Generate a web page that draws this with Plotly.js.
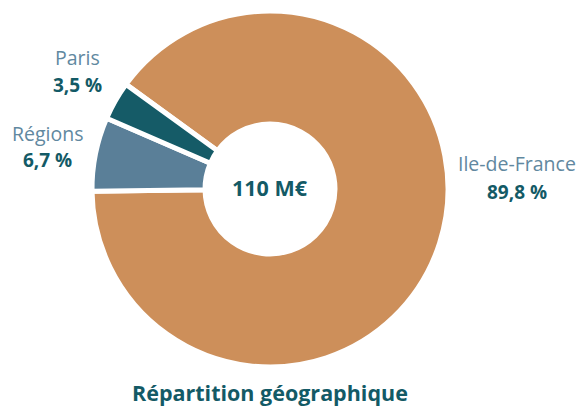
<!DOCTYPE html>
<html>
<head>
<meta charset="utf-8">
<script src="https://cdn.plot.ly/plotly-3.0.1.min.js"></script>
<style>html,body{margin:0;padding:0;background:#fff;}#chart{width:583px;height:410px;}</style>
</head>
<body>
<div id="chart"></div>
<script>
const labels = ["Ile-de-France", "Régions", "Paris"];
const values = [89.8, 6.7, 3.5];
const valueText = ["89,8", "6,7", "3,5"];
const colors = ["#CD8F5A", "#5A7F98", "#155B67"];
const centerText = "110 M€";
const chartTitle = "Répartition géographique";

const nameColor = "#6188A0";
const pctColor = "#135A66";
const font = "'Open Sans', Lato, sans-serif";

// label anchor positions (pixels from top-left): name line and percent line
const labelPos = [
  {x: 517, yName: 163, yPct: 192},
  {x: 47, yName: 133, yPct: 160},
  {x: 77, yName: 57, yPct: 85}
];

const annotations = [];
labels.forEach((l, i) => {
  annotations.push({
    xref: "paper", yref: "paper",
    x: labelPos[i].x / 583, y: 1 - labelPos[i].yName / 410,
    xanchor: "center", yanchor: "middle", showarrow: false,
    text: l,
    font: {family: font, size: 19.5, color: nameColor}
  });
  annotations.push({
    xref: "paper", yref: "paper",
    x: labelPos[i].x / 583, y: 1 - labelPos[i].yPct / 410,
    xanchor: "center", yanchor: "middle", showarrow: false,
    text: "<b>" + valueText[i] + " %</b>",
    font: {family: font, size: 19, color: pctColor}
  });
});

annotations.push({
  xref: "paper", yref: "paper", x: 270/583, y: 1 - 188/410,
  xanchor: "center", yanchor: "middle", showarrow: false,
  text: "<b>" + centerText + "</b>",
  font: {family: font, size: 21.5, color: pctColor}
});

annotations.push({
  xref: "paper", yref: "paper", x: 270/583, y: 1 - 392/410,
  xanchor: "center", yanchor: "middle", showarrow: false,
  text: "<b>" + chartTitle + "</b>",
  font: {family: font, size: 21.5, color: pctColor}
});

const cx = 270, cy = 410 - 189, R = 178;
const trace = {
  type: "pie",
  labels: labels,
  values: values,
  sort: false,
  direction: "clockwise",
  rotation: -54,
  hole: 0.365,
  textinfo: "none",
  hoverinfo: "none",
  marker: {colors: colors, line: {color: "#ffffff", width: 5}},
  domain: {x: [(cx - R)/583, (cx + R)/583], y: [(cy - R)/410, (cy + R)/410]},
  showlegend: false
};

Plotly.newPlot("chart", [trace], {
  width: 583, height: 410,
  margin: {l: 0, r: 0, t: 0, b: 0},
  paper_bgcolor: "#ffffff",
  plot_bgcolor: "#ffffff",
  showlegend: false,
  annotations: annotations
}, {staticPlot: true, displayModeBar: false});
</script>
</body>
</html>
